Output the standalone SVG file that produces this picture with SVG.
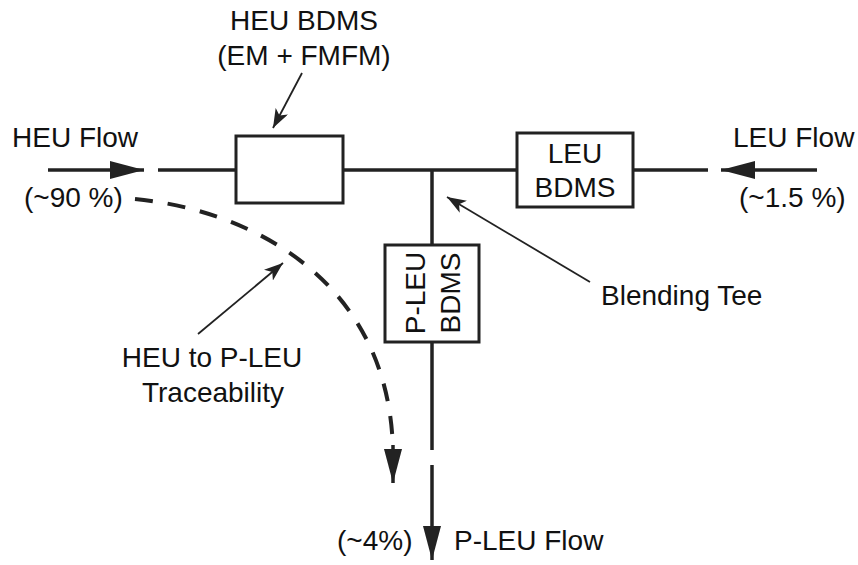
<svg xmlns="http://www.w3.org/2000/svg" width="858" height="565" viewBox="0 0 858 565">
<style>
text{font-family:"Liberation Sans",Arial,Helvetica,sans-serif;font-size:28px;fill:#111}
.pipe{stroke:#222;stroke-width:3.5;fill:none}
.box{stroke:#222;stroke-width:3;fill:#fff}
.thin{stroke:#222;stroke-width:1.8;fill:none}
.dash{stroke:#222;stroke-width:4;fill:none;stroke-dasharray:18 15}
</style>
<defs>
<marker id="big" markerUnits="userSpaceOnUse" markerWidth="36" markerHeight="20" refX="34" refY="10" orient="auto"><path d="M0,1 L34,10 L0,19 Z" fill="#222"/></marker>
<marker id="small" markerUnits="userSpaceOnUse" markerWidth="20" markerHeight="14" refX="19" refY="7" orient="auto"><path d="M0,0 L19,7 L0,14 L5,7 Z" fill="#222"/></marker>
</defs>
<g id="connectors">
<line class="pipe" x1="48" y1="170" x2="144" y2="170" marker-end="url(#big)"/>
<line class="pipe" x1="158" y1="170" x2="236" y2="170"/>
<line class="pipe" x1="343" y1="170" x2="517" y2="170"/>
<line class="pipe" x1="633" y1="170" x2="708" y2="170"/>
<line class="pipe" x1="817" y1="170" x2="721" y2="170" marker-end="url(#big)"/>
<line class="pipe" x1="432" y1="170" x2="432" y2="245"/>
<line class="pipe" x1="432" y1="342" x2="432" y2="450"/>
<line class="pipe" x1="432" y1="465" x2="432" y2="560" marker-end="url(#big)"/>
<path class="dash" d="M135,199 C250,210 390,280 393,452"/>
<line class="pipe" x1="393" y1="445" x2="393" y2="483" marker-end="url(#big)"/>
<line class="thin" x1="302" y1="73" x2="273" y2="128" marker-end="url(#small)"/>
<line class="thin" x1="590" y1="282" x2="447" y2="197" marker-end="url(#small)"/>
<line class="thin" x1="198" y1="334" x2="283" y2="263" marker-end="url(#small)"/>
</g>
<g id="heu-bdms">
<rect class="box" x="236" y="136" width="107" height="67"/>
<text x="304" y="30" text-anchor="middle">HEU BDMS</text>
<text x="304" y="65" text-anchor="middle">(EM + FMFM)</text>
</g>
<g id="leu-bdms">
<rect class="box" x="517" y="133" width="116" height="74"/>
<text x="575" y="163" text-anchor="middle">LEU</text>
<text x="575" y="197" text-anchor="middle">BDMS</text>
</g>
<g id="p-leu-bdms">
<rect class="box" x="385" y="245" width="94" height="97"/>
<text transform="translate(425,293) rotate(-90)" text-anchor="middle">P-LEU</text>
<text transform="translate(460,293) rotate(-90)" text-anchor="middle">BDMS</text>
</g>
<g id="heu-flow">
<text x="12" y="147">HEU Flow</text>
<text x="24" y="207">(~90 %)</text>
</g>
<g id="leu-flow">
<text x="733" y="147">LEU Flow</text>
<text x="739" y="207">(~1.5 %)</text>
</g>
<g id="blending-tee">
<text x="601" y="305">Blending Tee</text>
</g>
<g id="traceability">
<text x="212" y="367" text-anchor="middle">HEU to P-LEU</text>
<text x="213" y="402" text-anchor="middle">Traceability</text>
</g>
<g id="p-leu-flow">
<text x="337" y="550">(~4%)</text>
<text x="454" y="550">P-LEU Flow</text>
</g>
</svg>
